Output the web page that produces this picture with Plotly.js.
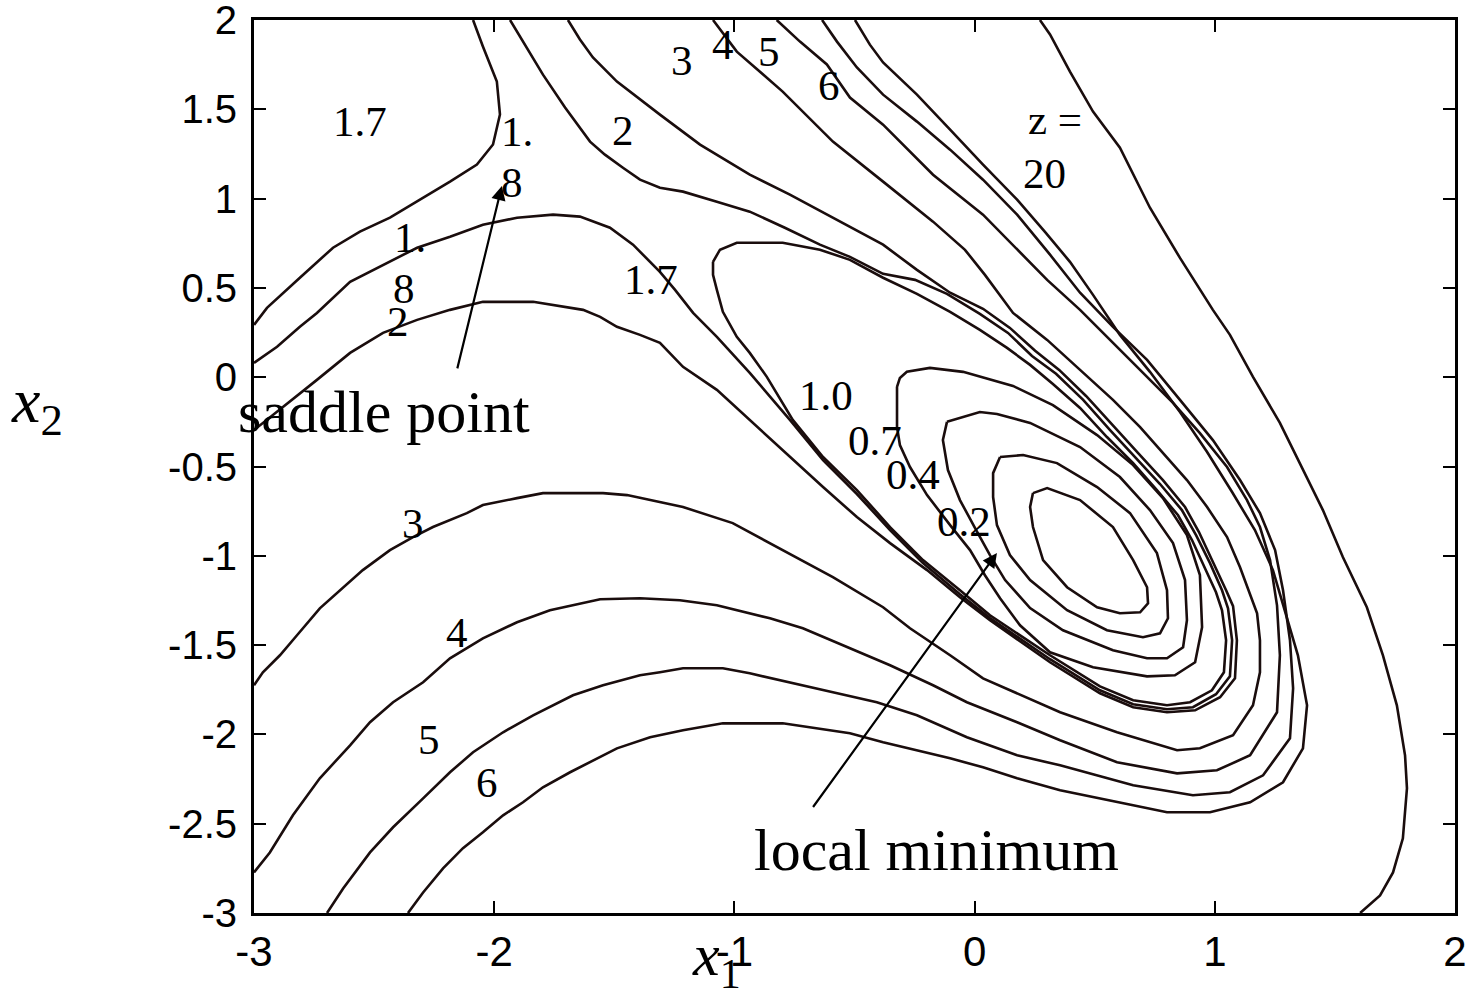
<!DOCTYPE html>
<html>
<head>
<meta charset="utf-8">
<script src="https://cdn.plot.ly/plotly-3.0.1.min.js"></script>
<style>
  html, body { margin: 0; padding: 0; background: #ffffff; }
  #chart { width: 1473px; height: 993px; }
</style>
</head>
<body>
<div id="chart"></div>
<script>
// Contour levels of z(x1, x2), each traced as (x1, x2) vertex lists.
const levelNames = ["0.2", "0.4", "0.7", "1.0", "1.7", "1.7", "1.8", "2", "3", "4", "5", "6", "20"];

// closed contours around the local minimum
const c02x = [0.243,0.302,0.439,0.576,0.660,0.718,0.722,0.689,0.605,0.510,0.385,0.285,0.243,0.231,0.243];
const c02y = [-0.649,-0.621,-0.688,-0.839,-1.024,-1.176,-1.266,-1.316,-1.322,-1.288,-1.176,-1.024,-0.839,-0.727,-0.649];

const c04x = [0.106,0.202,0.343,0.510,0.647,0.759,0.801,0.805,0.772,0.701,0.551,0.385,0.231,0.147,0.093,0.077,0.077,0.106];
const c04y = [-0.447,-0.436,-0.481,-0.615,-0.761,-0.985,-1.193,-1.350,-1.434,-1.456,-1.417,-1.305,-1.136,-0.996,-0.828,-0.671,-0.537,-0.447];

const c07x = [-0.115,0.022,0.093,0.231,0.439,0.605,0.730,0.826,0.876,0.884,0.868,0.801,0.718,0.576,0.368,0.231,0.127,0.064,0.002,-0.061,-0.111,-0.132,-0.115];
const c07y = [-0.250,-0.195,-0.206,-0.256,-0.391,-0.559,-0.744,-0.929,-1.136,-1.361,-1.512,-1.574,-1.574,-1.529,-1.417,-1.293,-1.136,-0.996,-0.845,-0.688,-0.520,-0.352,-0.250];

const c10x = [-0.323,-0.311,-0.282,-0.186,-0.048,0.160,0.326,0.510,0.660,0.784,0.884,0.938,0.947,0.918,0.834,0.718,0.493,0.314,0.189,0.106,0.043,-0.019,-0.102,-0.198,-0.269,-0.311,-0.323,-0.323];
const c10y = [-0.054,-0.004,0.030,0.052,0.030,-0.049,-0.156,-0.324,-0.492,-0.677,-0.884,-1.108,-1.400,-1.596,-1.669,-1.675,-1.624,-1.540,-1.389,-1.238,-1.109,-0.968,-0.828,-0.660,-0.503,-0.380,-0.279,-0.054];

const c17x = [-1.089,-1.060,-0.990,-0.799,-0.644,-0.519,-0.381,-0.240,-0.102,0.022,0.135,0.231,0.326,0.439,0.551,0.660,0.759,0.847,0.905,0.959,1.005,1.030,1.047,1.038,0.988,0.897,0.801,0.660,0.522,0.314,0.189,0.064,-0.061,-0.215,-0.352,-0.490,-0.631,-0.757,-0.865,-0.936,-0.990,-1.048,-1.073,-1.089,-1.089];
const c17y = [0.646,0.714,0.753,0.753,0.714,0.657,0.557,0.467,0.366,0.265,0.164,0.069,-0.038,-0.172,-0.335,-0.481,-0.632,-0.773,-0.912,-1.069,-1.204,-1.305,-1.473,-1.652,-1.753,-1.820,-1.837,-1.809,-1.731,-1.557,-1.445,-1.333,-1.193,-1.024,-0.839,-0.632,-0.447,-0.239,0.002,0.136,0.226,0.366,0.489,0.573,0.646];

// open contours
const b17x = [-2.088,-2.047,-1.989,-1.976,-2.005,-2.072,-2.184,-2.322,-2.434,-2.559,-2.671,-2.809,-2.946,-3.0];
const b17y = [2.0,1.852,1.656,1.471,1.303,1.191,1.095,0.983,0.893,0.815,0.725,0.557,0.388,0.293];

const c18x = [-3.0,-2.904,-2.809,-2.738,-2.600,-2.463,-2.321,-2.184,-2.047,-1.905,-1.755,-1.643,-1.518,-1.422,-1.310,-1.247,-1.172,-1.073,-0.936,-0.769,-0.631,-0.490,-0.352,-0.215,-0.061,0.064,0.189,0.314,0.522,0.660,0.801,0.909,1.005,1.063,1.072,1.055,1.030,0.980,0.922,0.863,0.772,0.668,0.564,0.452,0.339,0.239,0.139,0.022,-0.115,-0.248,-0.381,-0.519,-0.644,-0.790,-0.936,-1.073,-1.214,-1.310,-1.393,-1.464,-1.539,-1.601,-1.705,-1.797,-1.872,-1.934];
const c18y = [0.080,0.170,0.282,0.360,0.534,0.629,0.725,0.786,0.854,0.893,0.910,0.899,0.837,0.742,0.590,0.489,0.360,0.226,0.024,-0.239,-0.464,-0.654,-0.856,-1.041,-1.215,-1.349,-1.462,-1.579,-1.753,-1.831,-1.859,-1.848,-1.775,-1.675,-1.473,-1.294,-1.193,-1.041,-0.884,-0.744,-0.598,-0.447,-0.296,-0.127,0.019,0.119,0.248,0.355,0.467,0.545,0.579,0.674,0.742,0.837,0.927,0.983,1.039,1.061,1.106,1.173,1.246,1.319,1.510,1.694,1.862,2.0];

const c2x = [-3.0,-2.879,-2.738,-2.600,-2.463,-2.321,-2.184,-2.047,-1.838,-1.630,-1.559,-1.489,-1.393,-1.310,-1.214,-1.073,-0.936,-0.769,-0.631,-0.490,-0.352,-0.198,-0.061,0.064,0.189,0.314,0.522,0.660,0.801,0.918,1.022,1.084,1.092,1.076,1.047,0.992,0.934,0.876,0.784,0.680,0.576,0.464,0.352,0.252,0.147,0.035,-0.102,-0.240,-0.381,-0.590,-0.769,-0.936,-1.143,-1.310,-1.381,-1.489,-1.589,-1.643,-1.693];
const c2y = [-0.296,-0.167,-0.015,0.136,0.248,0.321,0.377,0.422,0.422,0.377,0.338,0.282,0.237,0.192,0.058,-0.071,-0.239,-0.447,-0.615,-0.783,-0.929,-1.080,-1.232,-1.361,-1.478,-1.596,-1.770,-1.848,-1.876,-1.865,-1.792,-1.686,-1.473,-1.282,-1.193,-1.036,-0.867,-0.727,-0.576,-0.424,-0.273,-0.105,0.041,0.148,0.276,0.383,0.473,0.601,0.742,0.893,1.022,1.134,1.302,1.470,1.543,1.655,1.790,1.891,2.0];

const c3x = [-1.089,-0.990,-0.799,-0.590,-0.381,-0.173,-0.040,0.043,0.160,0.302,0.439,0.576,0.689,0.784,0.884,0.968,1.051,1.105,1.147,1.176,1.188,1.188,1.159,1.076,0.938,0.843,0.593,0.356,0.035,-0.102,-0.269,-0.381,-0.590,-0.799,-1.007,-1.214,-1.351,-1.447,-1.547,-1.797,-1.905,-2.047,-2.114,-2.255,-2.338,-2.434,-2.547,-2.655,-2.726,-2.821,-2.892,-2.963,-3.0];
const c3y = [2.0,1.823,1.599,1.319,1.095,0.871,0.713,0.573,0.360,0.209,0.041,-0.127,-0.279,-0.424,-0.576,-0.727,-0.895,-1.064,-1.210,-1.322,-1.473,-1.652,-1.837,-2.005,-2.078,-2.089,-1.988,-1.876,-1.686,-1.557,-1.406,-1.288,-1.120,-0.968,-0.817,-0.727,-0.688,-0.660,-0.649,-0.649,-0.677,-0.716,-0.761,-0.839,-0.895,-0.968,-1.080,-1.210,-1.294,-1.445,-1.557,-1.652,-1.725];

const c4x = [-0.824,-0.727,-0.615,-0.519,-0.381,-0.173,0.035,0.218,0.302,0.439,0.576,0.718,0.826,0.938,1.051,1.134,1.188,1.230,1.259,1.271,1.259,1.147,1.009,0.843,0.593,0.356,0.177,-0.032,-0.173,-0.352,-0.519,-0.715,-0.852,-1.073,-1.227,-1.393,-1.559,-1.672,-1.768,-1.905,-2.047,-2.184,-2.296,-2.421,-2.517,-2.600,-2.726,-2.838,-2.934,-3.0];
const c4y = [2.0,1.879,1.751,1.566,1.414,1.134,0.910,0.657,0.545,0.377,0.192,0.002,-0.144,-0.313,-0.503,-0.688,-0.839,-1.024,-1.277,-1.557,-1.876,-2.117,-2.201,-2.218,-2.156,-2.033,-1.932,-1.820,-1.725,-1.613,-1.518,-1.406,-1.350,-1.277,-1.249,-1.238,-1.243,-1.277,-1.305,-1.372,-1.462,-1.574,-1.708,-1.820,-1.932,-2.061,-2.246,-2.453,-2.661,-2.773];

const c5x = [-0.635,-0.573,-0.490,-0.381,-0.240,-0.102,0.035,0.177,0.314,0.439,0.576,0.718,0.855,0.992,1.105,1.188,1.251,1.284,1.313,1.326,1.313,1.201,1.063,0.909,0.660,0.356,0.177,-0.032,-0.240,-0.407,-0.590,-0.769,-0.936,-1.048,-1.214,-1.310,-1.393,-1.547,-1.672,-1.838,-1.963,-2.088,-2.184,-2.296,-2.421,-2.517,-2.629,-2.696];
const c5y = [2.0,1.879,1.734,1.582,1.431,1.274,1.106,0.910,0.686,0.473,0.282,0.097,-0.127,-0.352,-0.576,-0.761,-0.968,-1.193,-1.473,-1.742,-2.022,-2.229,-2.324,-2.341,-2.285,-2.173,-2.117,-2.016,-1.893,-1.820,-1.764,-1.708,-1.658,-1.630,-1.630,-1.652,-1.669,-1.725,-1.781,-1.893,-1.988,-2.100,-2.212,-2.358,-2.520,-2.661,-2.863,-3.0];

const c6x = [-0.498,-0.436,-0.381,-0.240,-0.102,0.035,0.177,0.293,0.397,0.493,0.605,0.730,0.855,0.968,1.072,1.167,1.242,1.292,1.346,1.384,1.367,1.284,1.147,0.980,0.801,0.660,0.356,0.177,0.035,-0.102,-0.240,-0.381,-0.519,-0.656,-0.799,-1.048,-1.214,-1.351,-1.489,-1.684,-1.797,-1.880,-1.963,-2.047,-2.130,-2.213,-2.296,-2.359];
const c6y = [2.0,1.862,1.762,1.582,1.386,1.190,0.994,0.814,0.646,0.461,0.237,0.030,-0.195,-0.419,-0.643,-0.856,-1.080,-1.305,-1.557,-1.837,-2.078,-2.268,-2.380,-2.436,-2.436,-2.397,-2.313,-2.246,-2.184,-2.134,-2.089,-2.044,-1.994,-1.966,-1.938,-1.938,-1.977,-2.016,-2.078,-2.212,-2.296,-2.380,-2.453,-2.548,-2.637,-2.750,-2.885,-3.0];

const c20x = [0.272,0.314,0.397,0.493,0.605,0.730,0.855,0.992,1.063,1.159,1.271,1.354,1.450,1.533,1.633,1.700,1.758,1.792,1.800,1.783,1.742,1.688,1.605];
const c20y = [2.0,1.919,1.711,1.487,1.285,0.949,0.668,0.377,0.237,0.002,-0.256,-0.480,-0.744,-1.007,-1.288,-1.557,-1.837,-2.117,-2.302,-2.582,-2.773,-2.902,-3.0];

// axis ticks
const xTickVals = [-3, -2, -1, 0, 1, 2];
const xTickText = ["-3", "-2", "-1", "0", "1", "2"];
const yTickVals = [-3, -2.5, -2, -1.5, -1, -0.5, 0, 0.5, 1, 1.5, 2];
const yTickText = ["-3", "-2.5", "-2", "-1.5", "-1", "-0.5", "0", "0.5", "1", "1.5", "2"];

const lineColor = "#1a0d0d";
const serif = "Liberation Serif, Times New Roman, serif";

const paths = [
  [c02x, c02y], [c04x, c04y], [c07x, c07y], [c10x, c10y], [c17x, c17y], [b17x, b17y],
  [c18x, c18y], [c2x, c2y], [c3x, c3y], [c4x, c4y], [c5x, c5y], [c6x, c6y], [c20x, c20y]
];

const traces = paths.map((p, i) => ({
  type: "scatter",
  mode: "lines",
  x: p[0],
  y: p[1],
  name: "z = " + levelNames[i],
  line: { color: lineColor, width: 2.6 },
  hoverinfo: "skip",
  showlegend: false,
  cliponaxis: true
}));

// contour value labels
function lab(text, x, y, size) {
  return {
    text: text, x: x, y: y, xref: "x", yref: "y",
    showarrow: false, xanchor: "center", yanchor: "middle",
    font: { family: serif, size: size || 43, color: "#000000" }
  };
}

const annotations = [
  lab("1.7", -2.559, 1.429),
  lab("1.", -1.905, 1.375),
  lab("8", -1.926, 1.089),
  lab("1.", -2.351, 0.781),
  lab("8", -2.376, 0.495),
  lab("2", -2.400, 0.311),
  lab("2", -1.464, 1.381),
  lab("3", -1.218, 1.773),
  lab("4", -1.048, 1.862),
  lab("5", -0.857, 1.823),
  lab("6", -0.606, 1.633),
  lab("1.7", -1.347, 0.545),
  lab("1.0", -0.619, -0.105),
  lab("0.7", -0.415, -0.357),
  lab("0.4", -0.257, -0.542),
  lab("0.2", -0.044, -0.806),
  lab("3", -2.338, -0.817),
  lab("4", -2.155, -1.428),
  lab("5", -2.272, -2.027),
  lab("6", -2.030, -2.268),
  lab("z =", 0.335, 1.442),
  lab("20", 0.293, 1.140),
  lab("saddle point", -2.458, -0.195, 60),
  lab("local minimum", -0.157, -2.650, 60),
  // pointer arrows
  {
    x: -1.968, y: 1.071, ax: -2.155, ay: 0.041,
    xref: "x", yref: "y", axref: "x", ayref: "y",
    text: "", showarrow: true, arrowhead: 2, arrowsize: 1.3, arrowwidth: 2.2,
    arrowcolor: "#000000", standoff: 0
  },
  {
    x: 0.093, y: -0.985, ax: -0.677, ay: -2.415,
    xref: "x", yref: "y", axref: "x", ayref: "y",
    text: "", showarrow: true, arrowhead: 2, arrowsize: 1.3, arrowwidth: 2.2,
    arrowcolor: "#000000", standoff: 0
  },
  // axis titles
  {
    text: "<i>x</i><sub>1</sub>", xref: "paper", yref: "paper",
    x: 0.385, y: -0.052, xanchor: "center", yanchor: "middle", showarrow: false,
    font: { family: serif, size: 60, color: "#000000" }
  },
  {
    text: "<i>x</i><sub>2</sub>", xref: "paper", yref: "paper",
    x: -0.181, y: 0.569, xanchor: "center", yanchor: "middle", showarrow: false,
    font: { family: serif, size: 64, color: "#000000" }
  }
];

const axisCommon = {
  showline: true, linecolor: "#000000", linewidth: 3, mirror: "ticks",
  ticks: "inside", ticklen: 12, tickwidth: 2, tickcolor: "#000000",
  showgrid: false, zeroline: false, fixedrange: true,
  ticklabeloverflow: "allow"
};

const layout = {
  width: 1473, height: 993,
  margin: { l: 254, r: 18, t: 20, b: 80, pad: 0 },
  paper_bgcolor: "#ffffff", plot_bgcolor: "#ffffff",
  showlegend: false,
  xaxis: Object.assign({}, axisCommon, {
    range: [-3, 2], tickvals: xTickVals, ticktext: xTickText,
    tickfont: { family: "Liberation Sans, Arial, sans-serif", size: 42, color: "#000000" },
    ticklabelstandoff: 0
  }),
  yaxis: Object.assign({}, axisCommon, {
    range: [-3, 2], tickvals: yTickVals, ticktext: yTickText,
    tickfont: { family: "Liberation Sans, Arial, sans-serif", size: 40, color: "#000000" },
    ticklabelstandoff: 6
  }),
  annotations: annotations
};

Plotly.newPlot("chart", traces, layout, { staticPlot: true, displayModeBar: false });
</script>
</body>
</html>
